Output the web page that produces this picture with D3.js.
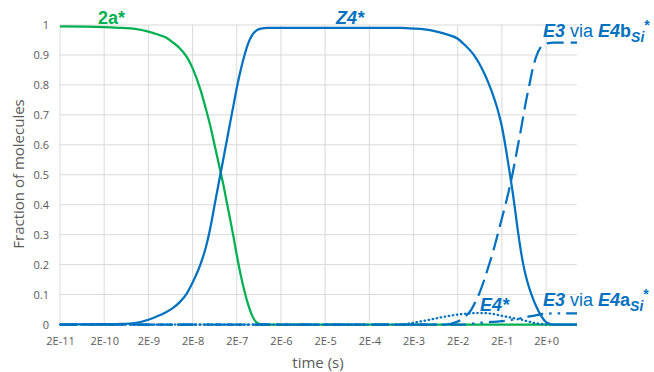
<!DOCTYPE html>
<html>
<head>
<meta charset="utf-8">
<script src="https://cdn.jsdelivr.net/npm/d3@7"></script>
<style>
  body { margin: 0; background: #fff; }
  svg { display: block; }
  .tick text { font-family: "Open Sans", sans-serif; font-size: 11px; fill: #595959; }
  .lbl { font-family: "Liberation Sans", Arial, sans-serif; font-weight: bold; }
</style>
</head>
<body>
<div id="chart"></div>
<script>
// 2a* (green)
const t2a = [2e-11, 2e-10, 5e-10, 1e-9, 2e-9, 3e-9, 5e-9, 7e-9, 1e-8, 1.5e-8, 2e-8, 3e-8, 4e-8, 5e-8,
  6.5e-8, 8e-8, 1e-7, 1.2e-7, 1.4e-7, 1.7e-7, 2e-7, 2.5e-7, 3e-7, 3.7e-7, 4.5e-7, 5.5e-7, 7e-7, 1e-6, 10];
const v2a = [0.995, 0.993, 0.99, 0.987, 0.978, 0.97, 0.958, 0.943, 0.924, 0.892, 0.856, 0.785, 0.72, 0.665,
  0.59, 0.53, 0.465, 0.405, 0.355, 0.29, 0.232, 0.16, 0.11, 0.062, 0.028, 0.008, 0.001, 0, 0];

// Z4*
const tZ4 = [2e-11, 2e-10, 5e-10, 1e-9, 2e-9, 3e-9, 5e-9, 7e-9, 1e-8, 1.5e-8, 2e-8, 3e-8, 4e-8, 5e-8,
  6.5e-8, 8e-8, 1e-7, 1.2e-7, 1.4e-7, 1.7e-7, 2e-7, 2.5e-7, 3e-7, 3.7e-7, 4.5e-7, 5.5e-7, 7e-7, 1e-6,
  2e-6, 2e-4, 1e-3, 2e-3, 5e-3, 1e-2, 2e-2, 3e-2, 4e-2, 5e-2, 6e-2, 8e-2, 0.1, 0.13, 0.16, 0.2,
  0.25, 0.3, 0.35, 0.4, 0.45, 0.5, 0.6, 0.7, 0.85, 1, 1.2, 1.5, 2, 3, 10];
const vZ4 = [0, 0.001, 0.002, 0.005, 0.016, 0.026, 0.041, 0.054, 0.073, 0.105, 0.14, 0.2, 0.258, 0.32,
  0.41, 0.48, 0.555, 0.617, 0.67, 0.735, 0.79, 0.855, 0.9, 0.942, 0.967, 0.981, 0.988, 0.99,
  0.99, 0.99, 0.99, 0.988, 0.982, 0.971, 0.954, 0.931, 0.912, 0.893, 0.874, 0.838, 0.805, 0.76, 0.718, 0.66,
  0.58, 0.507, 0.442, 0.38, 0.322, 0.275, 0.205, 0.16, 0.117, 0.088, 0.06, 0.032, 0.008, 0, 0];

// E4* (dotted)
const tE4 = [2e-11, 2e-4, 1e-3, 2e-3, 5e-3, 1e-2, 2e-2, 3e-2, 4e-2, 5e-2, 6e-2, 8e-2, 0.1, 0.13, 0.16, 0.2,
  0.25, 0.3, 0.35, 0.4, 0.45, 0.5, 0.6, 0.7, 0.85, 1, 1.2, 1.5, 2, 3, 10];
const vE4 = [0, 0, 0, 0.006, 0.017, 0.026, 0.033, 0.036, 0.037, 0.038, 0.038, 0.038, 0.037, 0.035, 0.032, 0.029,
  0.026, 0.024, 0.022, 0.02, 0.018, 0.017, 0.015, 0.012, 0.009, 0.006, 0.004, 0.002, 0, 0, 0];

// E3 via E4b_Si* (dashed)
const tE3b = [2e-11, 1e-2, 2e-2, 3e-2, 4e-2, 5e-2, 6e-2, 8e-2, 0.1, 0.13, 0.16, 0.2,
  0.25, 0.3, 0.35, 0.4, 0.45, 0.5, 0.6, 0.7, 0.85, 1, 1.2, 1.5, 2, 3, 5, 10];
const vE3b = [0, 0, 0.01, 0.028, 0.048, 0.075, 0.1, 0.15, 0.195, 0.25, 0.3, 0.355,
  0.41, 0.46, 0.505, 0.55, 0.59, 0.625, 0.69, 0.745, 0.805, 0.855, 0.895, 0.925, 0.938, 0.941, 0.941, 0.941];

// E3 via E4a_Si* (dash-dot-dot)
const tE3a = [2e-11, 3e-2, 4e-2, 5e-2, 6e-2, 8e-2, 0.1, 0.13, 0.16, 0.2,
  0.25, 0.3, 0.35, 0.4, 0.45, 0.5, 0.6, 0.7, 0.85, 1, 1.2, 1.5, 2, 3, 5, 10];
const vE3a = [0, 0, 0.002, 0.004, 0.005, 0.007, 0.008, 0.009, 0.01, 0.011,
  0.013, 0.015, 0.016, 0.018, 0.019, 0.02, 0.023, 0.025, 0.027, 0.029, 0.031, 0.034, 0.036, 0.037, 0.037, 0.037];

const xTicks = [2e-11, 2e-10, 2e-9, 2e-8, 2e-7, 2e-6, 2e-5, 2e-4, 2e-3, 2e-2, 2e-1, 2];
const xTickLabels = ["2E-11", "2E-10", "2E-9", "2E-8", "2E-7", "2E-6", "2E-5", "2E-4", "2E-3", "2E-2", "2E-1", "2E+0"];
const yTicks = [0, 0.1, 0.2, 0.3, 0.4, 0.5, 0.6, 0.7, 0.8, 0.9, 1];
const yTickLabels = ["0", "0.1", "0.2", "0.3", "0.4", "0.5", "0.6", "0.7", "0.8", "0.9", "1"];

const green = "#00b050", blue = "#0070c0";

const W = 654, H = 372;
const svg = d3.select("#chart").append("svg").attr("width", W).attr("height", H);

const x = d3.scaleLog().domain([2e-11, 10]).range([60, 577]);
const y = d3.scaleLinear().domain([0, 1]).range([324.5, 25]);

// grid
svg.append("g")
  .selectAll("line").data(yTicks).enter().append("line")
  .attr("x1", x.range()[0]).attr("x2", x.range()[1])
  .attr("y1", d => y(d)).attr("y2", d => y(d))
  .attr("stroke", "#d9d9d9").attr("stroke-width", 1);
svg.append("g")
  .selectAll("line").data(xTicks).enter().append("line")
  .attr("x1", d => x(d)).attr("x2", d => x(d))
  .attr("y1", y(0)).attr("y2", y(1))
  .attr("stroke", "#d9d9d9").attr("stroke-width", 1);

// axes (labels only)
const xAxis = d3.axisBottom(x).tickValues(xTicks)
  .tickFormat((d, i) => xTickLabels[i]).tickSize(0).tickPadding(13);
svg.append("g").attr("transform", "translate(0," + y(0) + ")").call(xAxis)
  .call(g => g.select(".domain").remove());

const yAxis = d3.axisLeft(y).tickValues(yTicks)
  .tickFormat((d, i) => yTickLabels[i]).tickSize(0).tickPadding(11);
svg.append("g").attr("transform", "translate(" + x.range()[0] + ",0)").call(yAxis)
  .call(g => g.select(".domain").remove());

// axis titles
svg.append("text")
  .attr("x", 318).attr("y", 368).attr("text-anchor", "middle")
  .style("font-family", "'Open Sans', sans-serif").style("font-size", "15px").style("fill", "#595959")
  .text("time (s)");
svg.append("text")
  .attr("transform", "translate(24,174) rotate(-90)").attr("text-anchor", "middle")
  .style("font-family", "'Open Sans', sans-serif").style("font-size", "15px").style("fill", "#595959")
  .text("Fraction of molecules");

// series
const line = d3.line().x(d => x(d[0])).y(d => y(d[1])).curve(d3.curveMonotoneX);
const series = [
  { t: t2a, v: v2a, color: green, dash: null },
  { t: tZ4, v: vZ4, color: blue, dash: null },
  { t: tE4, v: vE4, color: blue, dash: "0.5 3.6", cap: "round" },
  { t: tE3b, v: vE3b, color: blue, dash: "17 7" },
  { t: tE3a, v: vE3a, color: blue, dash: "16 6 2.5 6 2.5 6" }
];
series.forEach(s => {
  svg.append("path")
    .datum(s.t.map((t, i) => [t, s.v[i]]))
    .attr("d", line)
    .attr("fill", "none")
    .attr("stroke", s.color)
    .attr("stroke-width", 2.25)
    .attr("stroke-linecap", s.cap || "butt")
    .attr("stroke-dasharray", s.dash);
});

// series labels
function label(xp, yp, parts, color) {
  const t = svg.append("text").attr("class", "lbl").attr("x", xp).attr("y", yp)
    .style("fill", color).style("font-size", "18px");
  parts.forEach(p => {
    const ts = t.append("tspan").text(p.t);
    if (p.it) ts.style("font-style", "italic");
    if (p.normal) ts.style("font-weight", "normal");
    if (p.sub) ts.style("font-size", "14px").attr("dy", 5);
    if (p.sup) ts.style("font-size", "14px").attr("dy", -12);
  });
}
label(98, 24, [{ t: "2a*" }], green);
label(336, 24, [{ t: "Z4*", it: true }], blue);
label(543, 37, [{ t: "E3", it: true }, { t: " via ", normal: true }, { t: "E4", it: true },
  { t: "b" }, { t: "Si", it: true, sub: true }, { t: "*", sup: true }], blue);
label(480, 311, [{ t: "E4*", it: true }], blue);
label(543, 306, [{ t: "E3", it: true }, { t: " via ", normal: true }, { t: "E4", it: true },
  { t: "a" }, { t: "Si", it: true, sub: true }, { t: "*", sup: true }], blue);
</script>
</body>
</html>
